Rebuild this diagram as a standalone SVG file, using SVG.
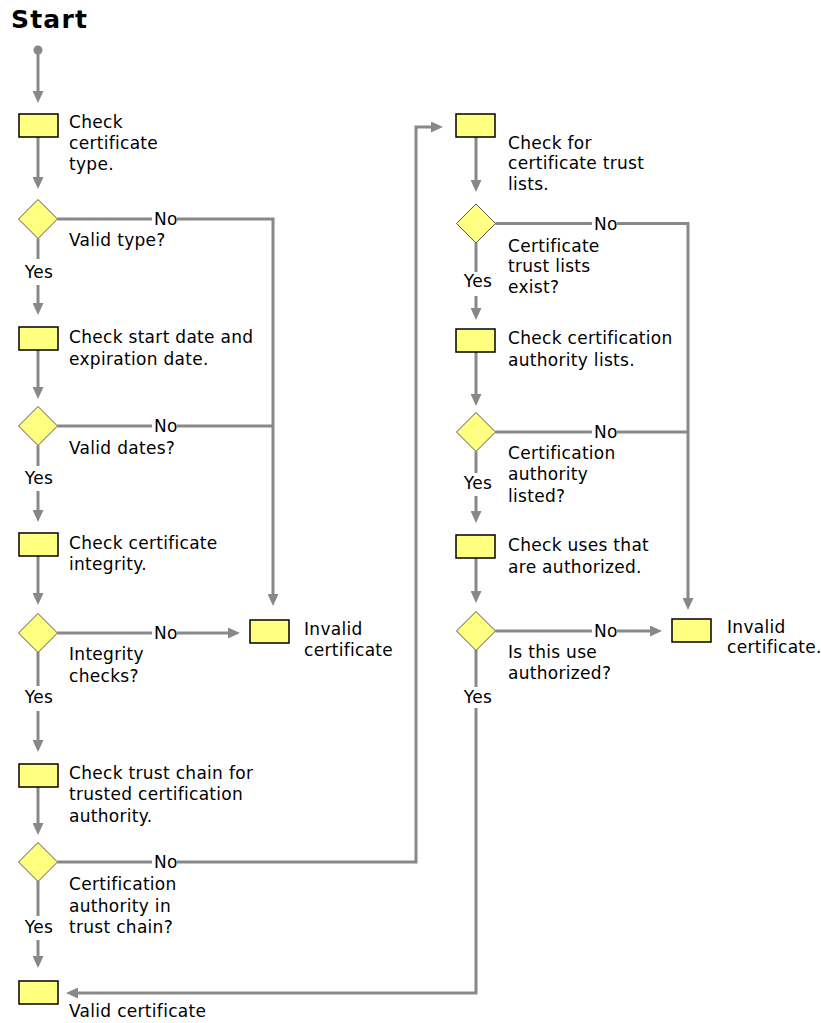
<svg xmlns="http://www.w3.org/2000/svg" width="821" height="1023" viewBox="0 0 821 1023">
<style>
text{font-family:"DejaVu Sans",Verdana,sans-serif;font-size:17px;letter-spacing:0.3px;fill:#000}
.title{font-weight:bold;font-size:25px;letter-spacing:1.2px}
.yes{text-anchor:middle}
.box{fill:#ffff80;stroke:#000;stroke-width:1.5}
.dia{fill:#ffff80;stroke:#555;stroke-width:1}
.ln{fill:none;stroke:#888;stroke-width:3}
.ar{marker-end:url(#ah)}
</style>
<defs>
<marker id="ah" viewBox="0 0 12 11" refX="0.5" refY="5.5" markerWidth="12" markerHeight="11" markerUnits="userSpaceOnUse" orient="auto">
<path d="M0,0 L12,5.5 L0,11 Z" fill="#888"/>
</marker>
</defs>
<rect width="821" height="1023" fill="#fff"/>
<text class="title" x="11" y="28">Start</text>

<g id="connectors">
<circle cx="38" cy="50" r="4.5" fill="#888"/>
<path class="ln ar" d="M38,50 V91.5"/>
<path class="ln ar" d="M38,137 V177.5"/>
<path class="ln" d="M38,238.5 V259"/>
<path class="ln ar" d="M38,285 V303.5"/>
<path class="ln ar" d="M38,350 V387.5"/>
<path class="ln" d="M38,445.5 V466"/>
<path class="ln ar" d="M38,491 V510.5"/>
<path class="ln ar" d="M38,556 V593.5"/>
<path class="ln" d="M38,652 V686"/>
<path class="ln ar" d="M38,711 V740.5"/>
<path class="ln ar" d="M38,787 V823.5"/>
<path class="ln" d="M38,881 V916"/>
<path class="ln ar" d="M38,940 V956.5"/>
<path class="ln" d="M57.5,219 H152"/>
<path class="ln ar" d="M177,219 H273 V594.5"/>
<path class="ln" d="M57.5,426 H152"/>
<path class="ln" d="M177,426 H273"/>
<path class="ln" d="M57.5,633 H152"/>
<path class="ln ar" d="M177,633 H228.5"/>
<path class="ln" d="M57.5,862 H152"/>
<path class="ln ar" d="M177,862 H416 V127 H431.5"/>
<path class="ln ar" d="M476,137 V180.5"/>
<path class="ln" d="M476,243 V272"/>
<path class="ln ar" d="M476,296 V308.5"/>
<path class="ln ar" d="M476,352 V394.5"/>
<path class="ln" d="M476,451.5 V473"/>
<path class="ln ar" d="M476,496 V511.5"/>
<path class="ln ar" d="M476,558 V591.5"/>
<path class="ln" d="M476,650 V687"/>
<path class="ln ar" d="M476,708 V993 H77.5"/>
<path class="ln" d="M495.5,223.5 H592"/>
<path class="ln ar" d="M617,223.5 H688 V598.5"/>
<path class="ln" d="M495.5,432 H592"/>
<path class="ln" d="M617,432 H688"/>
<path class="ln" d="M495.5,631 H592"/>
<path class="ln ar" d="M617,631 H650.5"/>
<text x="154" y="225">No</text>
<text x="154" y="432">No</text>
<text x="154" y="639">No</text>
<text x="154" y="868">No</text>
<text x="594" y="229.5">No</text>
<text x="594" y="438">No</text>
<text x="594" y="637">No</text>
<text class="yes" x="39" y="278">Yes</text>
<text class="yes" x="39" y="484">Yes</text>
<text class="yes" x="39" y="703">Yes</text>
<text class="yes" x="39" y="933">Yes</text>
<text class="yes" x="478" y="287">Yes</text>
<text class="yes" x="478" y="489">Yes</text>
<text class="yes" x="478" y="703">Yes</text>
</g>

<g id="check-type">
<rect class="box" x="19" y="114" width="39" height="23"/>
<text x="69" y="128">Check</text>
<text x="69" y="149">certificate</text>
<text x="69" y="170">type.</text>
</g>
<g id="valid-type">
<polygon class="dia" points="38,199.5 57.5,219 38,238.5 18.5,219"/>
<text x="69" y="246">Valid type?</text>
</g>
<g id="check-dates">
<rect class="box" x="19" y="327" width="39" height="23"/>
<text x="69" y="343">Check start date and</text>
<text x="69" y="365">expiration date.</text>
</g>
<g id="valid-dates">
<polygon class="dia" points="38,406.5 57.5,426 38,445.5 18.5,426"/>
<text x="69" y="454">Valid dates?</text>
</g>
<g id="check-integrity">
<rect class="box" x="19" y="533" width="39" height="23"/>
<text x="69" y="549">Check certificate</text>
<text x="69" y="570">integrity.</text>
</g>
<g id="integrity-checks">
<polygon class="dia" points="38,613.5 57.5,633 38,652.5 18.5,633"/>
<text x="69" y="660">Integrity</text>
<text x="69" y="682">checks?</text>
</g>
<g id="invalid-left">
<rect class="box" x="250" y="620" width="39" height="23"/>
<text x="304" y="635">Invalid</text>
<text x="304" y="656">certificate</text>
</g>
<g id="check-chain">
<rect class="box" x="19" y="764" width="39" height="23"/>
<text x="69" y="779">Check trust chain for</text>
<text x="69" y="800">trusted certification</text>
<text x="69" y="822">authority.</text>
</g>
<g id="ca-in-chain">
<polygon class="dia" points="38,842.5 57.5,862 38,881.5 18.5,862"/>
<text x="69" y="890">Certification</text>
<text x="69" y="912">authority in</text>
<text x="69" y="933">trust chain?</text>
</g>
<g id="valid-cert">
<rect class="box" x="19" y="981" width="39" height="23"/>
<text x="69" y="1017">Valid certificate</text>
</g>
<g id="check-ctl">
<rect class="box" x="456" y="114" width="39" height="23"/>
<text x="508" y="149">Check for</text>
<text x="508" y="169">certificate trust</text>
<text x="508" y="190">lists.</text>
</g>
<g id="ctl-exist">
<polygon class="dia" points="476,204 495.5,223.5 476,243 456.5,223.5"/>
<text x="508" y="252">Certificate</text>
<text x="508" y="272">trust lists</text>
<text x="508" y="293">exist?</text>
</g>
<g id="check-ca-lists">
<rect class="box" x="456" y="329" width="39" height="23"/>
<text x="508" y="344">Check certification</text>
<text x="508" y="366">authority lists.</text>
</g>
<g id="ca-listed">
<polygon class="dia" points="476,412.5 495.5,432 476,451.5 456.5,432"/>
<text x="508" y="459">Certification</text>
<text x="508" y="480">authority</text>
<text x="508" y="502">listed?</text>
</g>
<g id="check-uses">
<rect class="box" x="456" y="535" width="39" height="23"/>
<text x="508" y="551">Check uses that</text>
<text x="508" y="573">are authorized.</text>
</g>
<g id="use-authorized">
<polygon class="dia" points="476,611.5 495.5,631 476,650.5 456.5,631"/>
<text x="508" y="658">Is this use</text>
<text x="508" y="679">authorized?</text>
</g>
<g id="invalid-right">
<rect class="box" x="672" y="619" width="39" height="23"/>
<text x="727" y="633">Invalid</text>
<text x="727" y="653">certificate.</text>
</g>
</svg>
